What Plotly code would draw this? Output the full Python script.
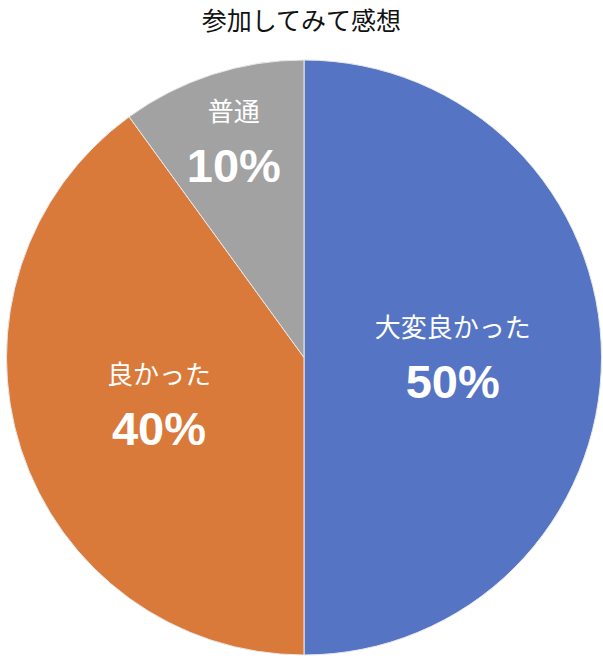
import plotly.graph_objects as go

labels = ["大変良かった", "良かった", "普通"]
values = [50, 40, 10]
colors = ["#5674C4", "#D97A3A", "#A2A2A2"]

fig = go.Figure()
fig.add_trace(go.Pie(
    labels=labels,
    values=values,
    sort=False,
    direction="clockwise",
    rotation=0,
    marker=dict(colors=colors, line=dict(color="#E8E8E8", width=1)),
    textinfo="text",
    texttemplate="<span style='font-size:26px;font-weight:normal'>%{label}</span><br>"
                 "<b><span style='font-family:Liberation Sans'>%{percent:.0%}</span></b>",
    textposition="inside",
    insidetextorientation="horizontal",
    textfont=dict(family="Noto Sans CJK JP", size=47, color="white"),
    showlegend=False,
    hoverinfo="label+percent",
))

fig.update_layout(
    width=603, height=661,
    title=dict(text="参加してみて感想", x=0.5, xanchor="center", y=0.968, yanchor="middle",
               font=dict(family="Noto Sans CJK JP", size=25, color="#111111")),
    margin=dict(l=5, r=0, t=60, b=6),
    paper_bgcolor="white",
    font=dict(family="Noto Sans CJK JP"),
)

# page body has an 8px default margin; drop it so the figure sits at the corner
fig.write_html("out.html", config={"displayModeBar": False},
               post_script="document.body.style.margin='0';")
